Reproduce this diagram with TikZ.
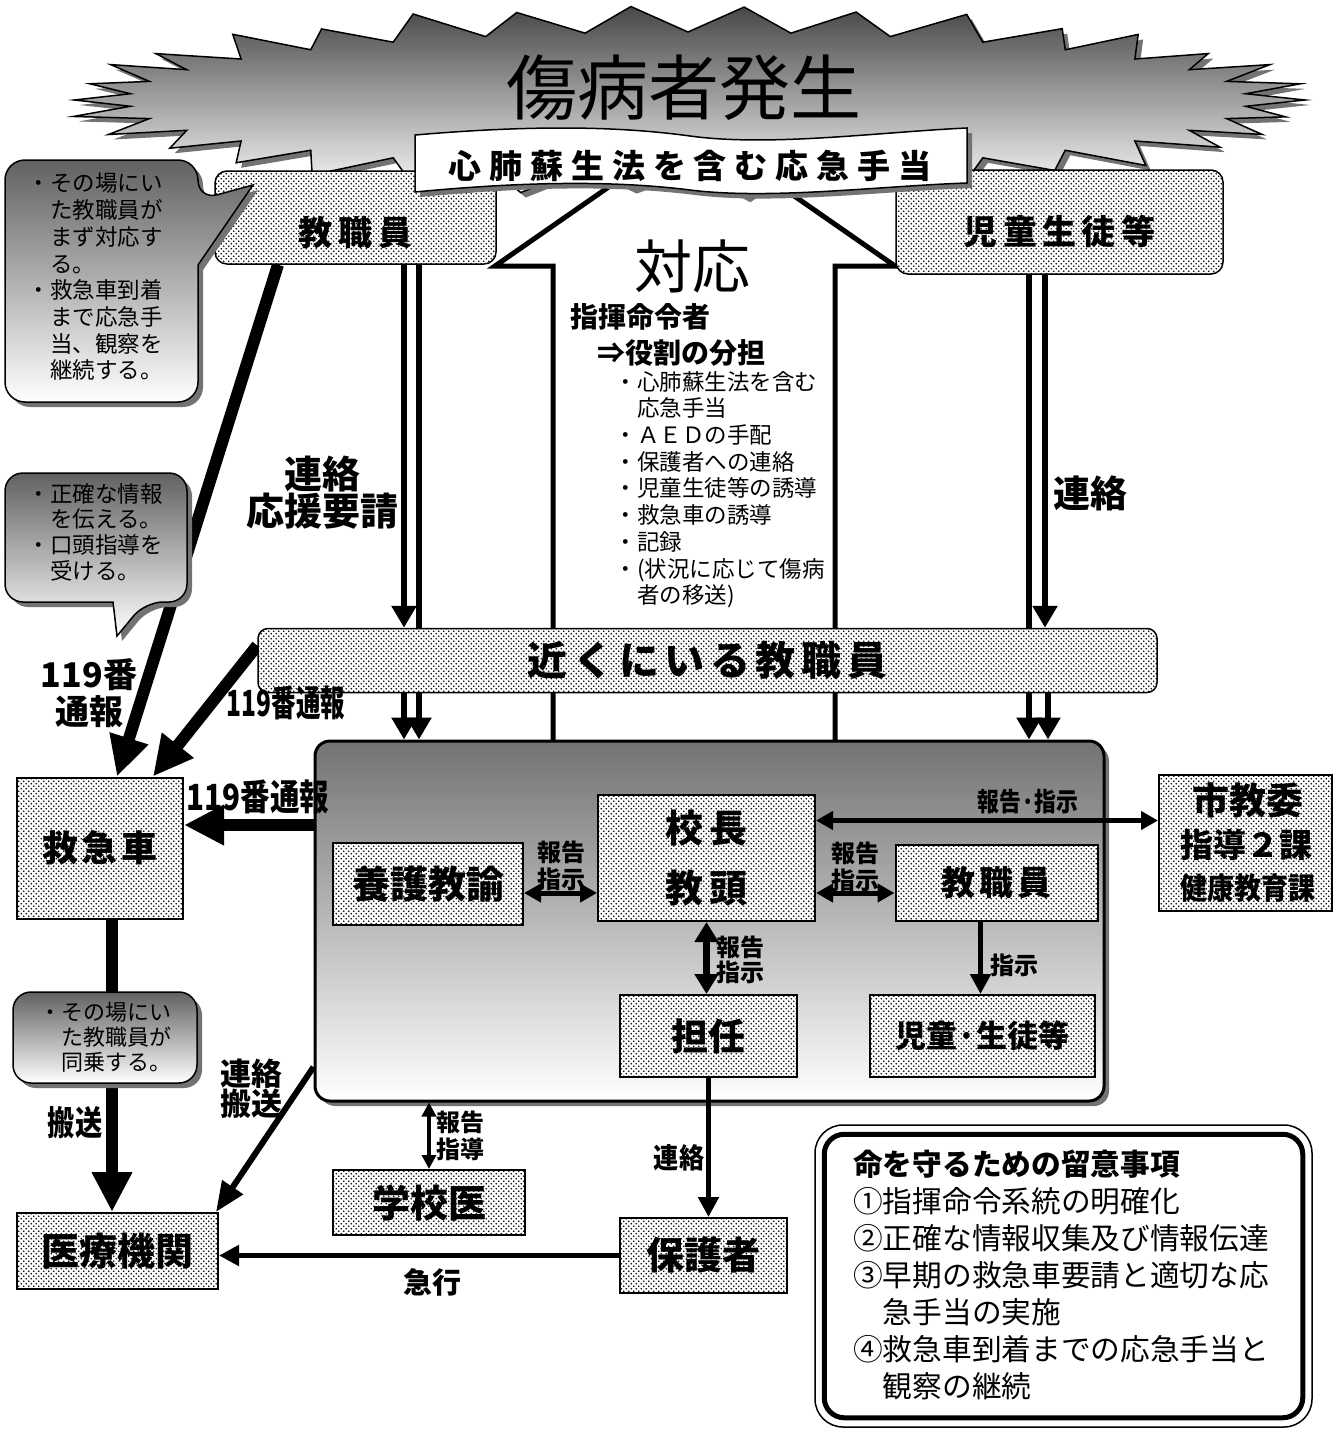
\documentclass[tikz,border=0pt]{standalone}
\usepackage{fontspec}
\setmainfont{Noto Sans CJK JP}
\usepackage{graphicx}
\usetikzlibrary{arrows.meta,patterns,shadows}
\pgfdeclarelayer{back}
\pgfdeclarelayer{bg}
\pgfsetlayers{back,bg,main}
\pgfdeclarepatternformonly{mydots}{\pgfqpoint{-1pt}{-1pt}}{\pgfqpoint{6pt}{6pt}}{\pgfqpoint{5pt}{5pt}}{%
  \pgfpathcircle{\pgfqpoint{1.25pt}{1.25pt}}{0.8pt}%
  \pgfpathcircle{\pgfqpoint{3.75pt}{3.75pt}}{0.8pt}%
  \pgfusepath{fill}}
\newcommand\fz[2]{\fontsize{#1pt}{#2pt}\selectfont}
\newcommand\lsp[1]{\addfontfeature{LetterSpace=#1}}
\begin{document}
\begin{tikzpicture}[x=1pt,y=-1pt,
 dotbox/.style={draw,line width=1.5pt,preaction={fill=white},pattern=mydots,pattern color=black,inner sep=0pt},
 thickarr/.style={line width=12pt,-{Triangle[length=40pt,width=38pt]}},
 dblarr/.style={line width=6pt,-{Triangle[length=22pt,width=24pt]}},
 midarr/.style={line width=5pt,-{Triangle[length=20pt,width=20pt]}},
 twoarr/.style={line width=5pt,{Triangle[length=17pt,width=18pt]}-{Triangle[length=17pt,width=18pt]}},
 lbl/.style={inner sep=0pt},
 shad/.style={drop shadow={shadow xshift=5pt,shadow yshift=-5pt,fill=black!55,opacity=1}},
 callout/.style={draw,line width=1.5pt,top color=black!62,bottom color=white,shad},
]
\begin{pgfonlayer}{back}
\fill[white] (0,0) rectangle (1338,1430);
\end{pgfonlayer}
\useasboundingbox (0,0) rectangle (1338,1430);

% hollow arrow
\draw[line width=5pt,fill=white,line join=miter] (553,746) -- (553,266) -- (495,266) -- (695,127) -- (895,266) -- (835,266) -- (835,746) -- cycle;

% starburst
\path[draw,line width=1.5pt,top color=black!72,bottom color=white,shad]
 (1305,100) \foreach \i in {1,...,67}{
   -- ({688+ifthenelse(mod(\i,2)==0,617+9*sin(\i*137),560)*cos(5.294118*\i)},
       {100+ifthenelse(mod(\i,2)==0,93+5*sin(\i*97),68)*sin(5.294118*\i)}) } -- cycle;
\node[lbl,font=\fz{71}{80}] (title) at (684,88) {傷病者発生};

% top boxes
\node[dotbox,rounded corners=12pt,minimum width=281pt,minimum height=93pt] (tk) at (355.5,217.5) {\raisebox{-15pt}[\height][\depth]{\bfseries\fz{34}{40}\lsp{18}教職員}};
\node[dotbox,rounded corners=12pt,minimum width=327pt,minimum height=104pt] (jd) at (1059.5,222) {\raisebox{-10pt}[\height][\depth]{\bfseries\fz{34}{40}\lsp{16}児童生徒等}};

% banner
\path[draw,line width=1.5pt,fill=white,shad] (415,135) .. controls (520,126) and (610,125) .. (690,136) .. controls (770,147) and (880,132) .. (967,128) -- (967,183) .. controls (880,186) and (770,200) .. (690,190) .. controls (610,180) and (520,182) .. (415,192) -- cycle;
\node[lbl,font={\bfseries\fz{33}{40}\lsp{24}}] (bt) at (690,166) {心肺蘇生法を含む応急手当};

% centre texts
\node[lbl,font=\fz{58}{60}] (taiou) at (692,266) {対応};
\node[lbl,font={\bfseries\fz{28}{30}}] (shiki) at (640,317) {指揮命令者};
\node[lbl,font={\bfseries\fz{28}{30}}] (yaku) at (681,353) {⇒役割の分担};
\node[lbl,anchor=north west,align=left,font=\fz{22.5}{26.7}] (role) at (614.5,371) {・心肺蘇生法を含む\\\hspace*{1em}応急手当\\・ＡＥＤの手配\\・保護者への連絡\\・児童生徒等の誘導\\・救急車の誘導\\・記録\\・(状況に応じて傷病\\\hspace*{1em}者の移送)};

% near staff
\node[dotbox,rounded corners=10pt,minimum width=899pt,minimum height=64pt,font={\bfseries\fz{40}{48}\lsp{14}}] (chikaku) at (707.5,660.5) {近くにいる教職員};

% big box
\node[draw,line width=3pt,rounded corners=15pt,top color=black!55,bottom color=white,shad,minimum width=789pt,minimum height=360pt,inner sep=0pt] (big) at (709.5,921) {};

\node[dotbox,line width=2pt,minimum width=217pt,minimum height=126pt,align=center,font={\bfseries\fz{38}{60}\lsp{16}}] (kocho) at (706.5,858) {校長\\教頭};
\node[dotbox,line width=2pt,minimum width=190pt,minimum height=82pt,font={\bfseries\fz{38}{40}}] (yogo) at (428,884) {養護教諭};
\node[dotbox,line width=2pt,minimum width=202pt,minimum height=76pt,font={\bfseries\fz{34}{40}\lsp{12}}] (kys) at (996.5,883) {教職員};
\node[dotbox,line width=2pt,minimum width=177pt,minimum height=82pt,font={\bfseries\fz{37}{40}}] (tannin) at (708.5,1036) {担任};
\node[dotbox,line width=2pt,minimum width=225pt,minimum height=82pt,font={\bfseries\fz{31}{40}}] (jidou) at (982.5,1036) {児童·生徒等};
\node[dotbox,line width=2pt,minimum width=173pt,minimum height=136pt] (shi) at (1245.5,842.5) {};
\node[lbl,font={\bfseries\fz{37}{40}}] (shi1) at (1248,800) {市教委};
\node[lbl,font={\bfseries\fz{33}{40}}] (shi2) at (1246,845) {指導２課};
\node[lbl,font={\bfseries\fz{30}{40}}] (shi3) at (1248,888) {\scalebox{0.9}[1]{健康教育課}};
\node[dotbox,line width=2pt,minimum width=166pt,minimum height=141pt,font={\bfseries\fz{36}{40}\lsp{9}}] (qq) at (100,848) {救急車};
\node[dotbox,line width=2pt,minimum width=201pt,minimum height=76pt,font={\bfseries\fz{38}{40}}] (iryo) at (117.5,1251) {医療機関};
\node[dotbox,line width=2pt,minimum width=192pt,minimum height=65pt,font={\bfseries\fz{38}{40}}] (gakko) at (429,1202.5) {学校医};
\node[dotbox,line width=2pt,minimum width=167pt,minimum height=75pt,font={\bfseries\fz{38}{40}}] (hogo) at (703.5,1255.5) {保護者};

% arrows on top
\coordinate (k1) at ([yshift=37.5pt]kocho.east);
\draw[twoarr] (k1) -- (k1 -| shi.west);
\coordinate (k2) at ([yshift=-35pt]kocho.west);
\draw[twoarr] (yogo.east |- k2) -- (k2);
\coordinate (k3) at ([yshift=-35pt]kocho.east);
\draw[twoarr] (k3) -- (k3 -| kys.west);
\draw[line width=7pt,{Triangle[length=20pt,width=23pt]}-{Triangle[length=20pt,width=23pt]}] (kocho.south) -- (kocho.south |- tannin.north);
\coordinate (k4) at ([xshift=-16pt]kys.south);
\draw[midarr] (k4) -- (k4 |- jidou.north);
\draw[line width=3.5pt,{Triangle[length=14pt,width=14pt]}-{Triangle[length=14pt,width=14pt]}] (gakko.north |- big.south) -- (gakko.north);
\draw[midarr] (tannin.south) -- (tannin.south |- hogo.north);
\draw[midarr] (hogo.west) -- (hogo.west -| iryo.east);

% arrows underneath
\begin{pgfonlayer}{bg}
\coordinate (t1) at ([xshift=48.5pt]tk.south);
\coordinate (t2) at ([xshift=63.5pt]tk.south);
\draw[dblarr] (t1) -- (t1 |- chikaku.north);
\draw[dblarr] (t2) -- (t2 |- big.north);
\draw[dblarr] (t1 |- chikaku.south) -- (t1 |- big.north);
\coordinate (j1) at ([xshift=-30.5pt]jd.south);
\coordinate (j2) at ([xshift=-14.5pt]jd.south);
\coordinate (j3) at ([xshift=-11.5pt]jd.south);
\draw[dblarr] (j1) -- (j1 |- big.north);
\draw[dblarr] (j2) -- (j2 |- chikaku.north);
\draw[dblarr] (j3 |- chikaku.south) -- (j3 |- big.north);
\draw[thickarr] ([xshift=-77.5pt]tk.south) -- ([xshift=17pt]qq.north);
\draw[thickarr] ([yshift=15pt]chikaku.west) -- ([xshift=53pt]qq.north);
\coordinate (q1) at ([yshift=23pt]qq.east);
\draw[thickarr] (q1 -| big.west) -- (q1);
\coordinate (q2) at ([xshift=12pt]qq.south);
\draw[thickarr] (q2) -- (q2 |- iryo.north);
\draw[line width=6pt,-{Triangle[length=30pt,width=24pt]}] ([yshift=-146pt]big.west) -- ([xshift=-3pt]iryo.north east);
\end{pgfonlayer}

% callouts
\path[callout] (5,281) [rounded corners=20pt] -- (5,160) -- (198,160) -- (198,200) [sharp corners] -- (253,185) -- (198,265) [rounded corners=20pt] -- (198,402) -- (5,402) -- cycle;
\node[lbl,anchor=north west,align=left,font=\fz{22.5}{26.7}] (c1t) at (27.5,173) {・その場にい\\\hspace*{1em}た教職員が\\\hspace*{1em}まず対応す\\\hspace*{1em}る。\\・救急車到着\\\hspace*{1em}まで応急手\\\hspace*{1em}当、観察を\\\hspace*{1em}継続する。};
\path[callout] (5,540) [rounded corners=18pt] -- (5,473) -- (187,473) -- (187,602) -- (145,602) [sharp corners] -- (117,636) -- (113,602) [rounded corners=18pt] -- (5,602) -- cycle;
\node[lbl,anchor=north west,align=left,font=\fz{22.5}{25.7}] (c2t) at (27.5,483) {・正確な情報\\\hspace*{1em}を伝える。\\・口頭指導を\\\hspace*{1em}受ける。};
\node[callout,rounded corners=18pt,minimum width=184pt,minimum height=91pt,inner sep=0pt,align=left,font=\fz{22}{25}] (c3) at (105,1037.5) {・その場にい\\\hspace*{1em}た教職員が\\\hspace*{1em}同乗する。};

% labels
\node[lbl,align=center,font={\bfseries\fz{38}{34}}] (lr1) at (322,493) {連絡\\応援要請};
\node[lbl,font={\bfseries\fz{37}{40}}] (lr2) at (1090,493) {連絡};
\node[lbl,align=center,font={\bfseries\fz{34}{37}}] (l119a) at (89,693) {119番\\通報};
\node[lbl,font={\bfseries\fz{36}{40}}] (l119b) at (286,703) {\scalebox{0.68}[1]{119番通報}};
\node[lbl,font={\bfseries\fz{36}{40}}] (l119c) at (258,797) {\scalebox{0.82}[1]{119番通報}};
\node[lbl,font={\bfseries\fz{34}{40}}] (lhanso) at (75,1123) {\scalebox{0.8}[1]{搬送}};
\node[lbl,align=center,font={\bfseries\fz{31}{28}}] (lrh) at (251,1089) {連絡\\搬送};
\node[lbl,font={\bfseries\fz{29}{30}}] (lkyu) at (432,1282) {急行};
\node[lbl,font={\bfseries\fz{28}{30}}] (lren3) at (679,1158) {\scalebox{0.9}[1]{連絡}};
\node[lbl,font={\bfseries\fz{26}{30}}] (lhs) at (1028,802) {\scalebox{0.84}[1]{報告·指示}};
\node[lbl,align=center,font={\bfseries\fz{24}{27}}] (lh1) at (561,866) {報告\\指示};
\node[lbl,align=center,font={\bfseries\fz{24}{27}}] (lh2) at (855,867) {報告\\指示};
\node[lbl,align=center,font={\bfseries\fz{24}{25}}] (lh3) at (740,960) {報告\\指示};
\node[lbl,font={\bfseries\fz{24}{27}}] (lsj) at (1014,965) {指示};
\node[lbl,align=center,font={\bfseries\fz{24}{27}}] (lh4) at (460,1136) {報告\\指導};

% note box
\node[draw,line width=1.5pt,rounded corners=28pt,minimum width=497pt,minimum height=302pt,inner sep=0pt] (note) at (1063.5,1276) {};
\draw[line width=5pt,rounded corners=20pt] ([xshift=10pt,yshift=-10pt]note.north west) rectangle ([xshift=-10pt,yshift=10pt]note.south east);
\node[lbl,anchor=north west,align=left,font=\fz{29.7}{37}] (notet) at (853,1150) {{\bfseries 命を守るための留意事項}\\①指揮命令系統の明確化\\②正確な情報収集及び情報伝達\\③早期の救急車要請と適切な応\\\hspace*{1em}急手当の実施\\④救急車到着までの応急手当と\\\hspace*{1em}観察の継続};
\end{tikzpicture}
\end{document}
